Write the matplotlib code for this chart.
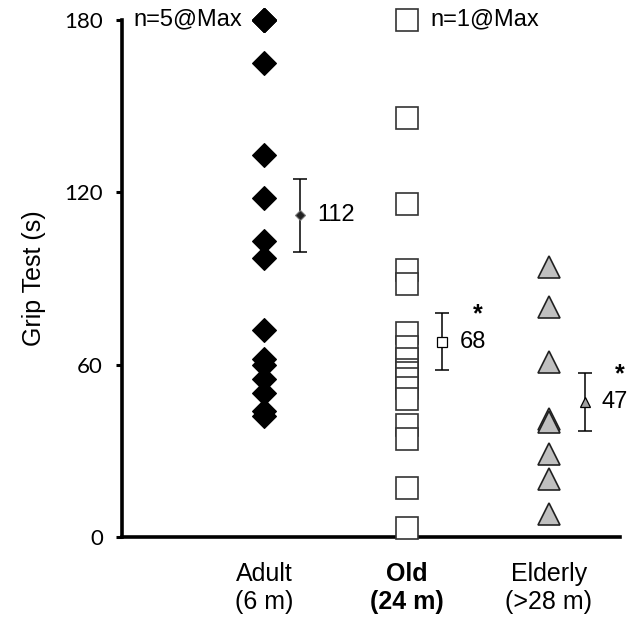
import numpy as np
import matplotlib
matplotlib.use("Agg")
import matplotlib.pyplot as plt

# data
groups = ["Adult\n(6 m)", "Old\n(24 m)", "Elderly\n(>28 m)"]
adult = [180, 180, 180, 180, 180, 165, 133, 118, 103, 97, 72, 62, 60, 55, 50, 44, 42]
old = [180, 146, 116, 93, 88, 71, 66, 62, 58, 57, 55, 52, 48, 39, 34, 17, 3]
elderly = [94, 80, 61, 41, 40, 29, 20, 8]
means = [112, 68, 47]
sems = [12.7, 10, 10]
stars = ["", "*", "*"]
max_notes = ["n=5@Max", "n=1@Max", ""]
yticks = [0, 60, 120, 180]

plt.rcParams['font.family'] = ['Liberation Sans', 'DejaVu Sans']

fig = plt.figure(figsize=(6.38, 6.2), dpi=100)
ax = fig.add_axes([0.191, 0.134, 0.781, 0.834])

xs = np.arange(1, 4)
styles = [
    dict(marker='D', ms=12, mfc='black', mec='black', mew=0.8),
    dict(marker='s', ms=15.5, mfc='white', mec='#333333', mew=1.2),
    dict(marker='^', ms=16, mfc='#c0c0c0', mec='#222222', mew=1.2),
]
mean_styles = [
    dict(marker='D', ms=5.5, mfc='#222222', mec='#777777', mew=0.8),
    dict(marker='s', ms=7, mfc='white', mec='black', mew=0.9),
    dict(marker='^', ms=7.5, mfc='#a0a0a0', mec='black', mew=0.9),
]
data = [adult, old, elderly]

for i, vals in enumerate(data):
    ax.plot([xs[i]] * len(vals), vals, ls='none', clip_on=False, zorder=3, **styles[i])
    mx = xs[i] + 0.25
    ax.errorbar(mx, means[i], yerr=sems[i], fmt='none', ecolor='black',
                elinewidth=1.1, capsize=5, capthick=1.1, zorder=2)
    ax.plot(mx, means[i], ls='none', zorder=4, **mean_styles[i])
    ax.text(mx + 0.12, means[i], str(means[i]), fontsize=17, va='center', ha='left')
    if stars[i]:
        ax.text(mx + 0.25, means[i] + 9.5, stars[i], fontsize=18, fontweight='bold',
                va='center', ha='center')
    if max_notes[i]:
        ax.text(xs[i] + 0.17 if i else 0.08, 180, max_notes[i], fontsize=17,
                va='center', ha='left')

ax.set_xlim(0, 3.5)
ax.set_ylim(0, 180)
ax.set_yticks(yticks)
ax.set_yticklabels([str(t) for t in yticks], fontsize=16, family=['Lato', 'DejaVu Sans'])
ax.set_xticks(xs)
ax.set_xticklabels(groups, fontsize=18, linespacing=1.2)
ax.get_xticklabels()[1].set_fontweight('bold')
ax.tick_params(axis='x', length=0, pad=18)
ax.tick_params(axis='y', direction='out', length=4.5, width=2.2, pad=9)
ax.set_ylabel("Grip Test (s)", fontsize=18, labelpad=13)

for side in ['top', 'right']:
    ax.spines[side].set_visible(False)
for side in ['left', 'bottom']:
    ax.spines[side].set_linewidth(2.6)

fig.savefig("out.png", dpi=100)
